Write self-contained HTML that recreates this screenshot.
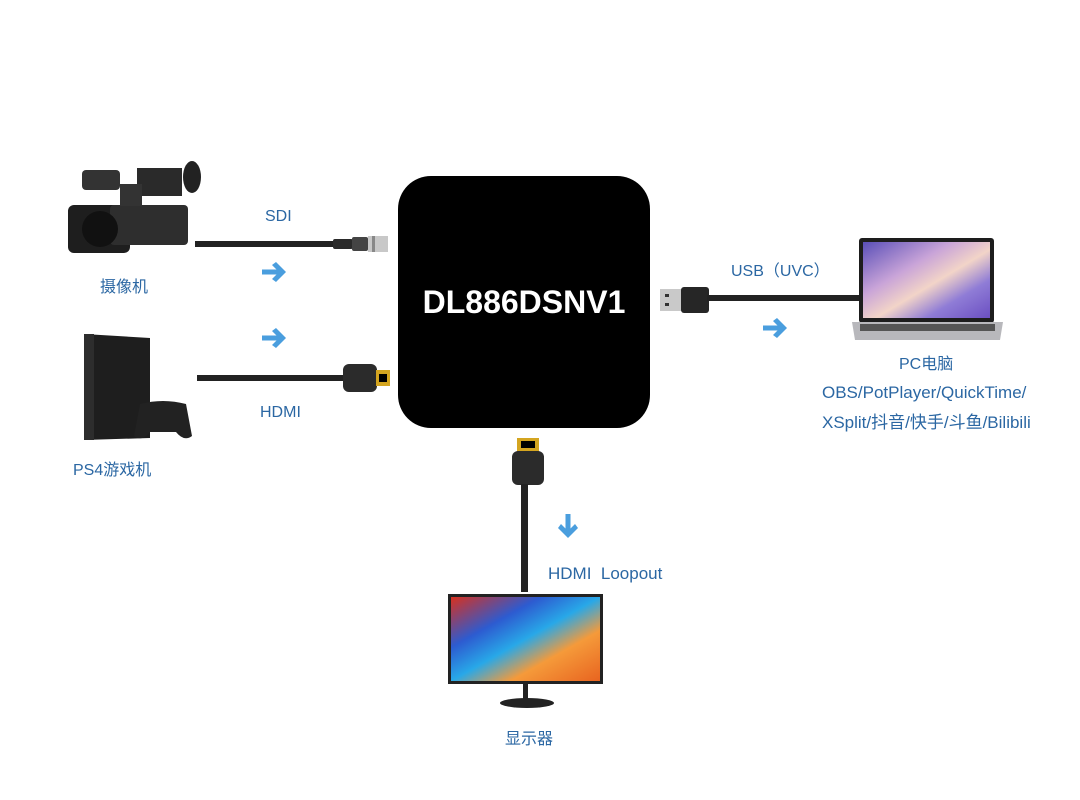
<!DOCTYPE html>
<html><head><meta charset="utf-8"><style>
html,body{margin:0;padding:0;background:#fff;}
body{width:1080px;height:800px;overflow:hidden;position:relative;font-family:"Liberation Sans","Noto Sans CJK SC",sans-serif;}
.t{position:absolute;color:#2b67a3;font-size:16px;white-space:nowrap;}
</style></head><body>
<svg width="1080" height="800" style="position:absolute;left:0;top:0">
<defs>
<linearGradient id="scr" x1="0" y1="0" x2="1" y2="1">
<stop offset="0" stop-color="#5a4fb8"/><stop offset="0.35" stop-color="#c9a4d8"/><stop offset="0.55" stop-color="#f2d4c8"/><stop offset="0.75" stop-color="#8f7cd6"/><stop offset="1" stop-color="#6b4fc2"/></linearGradient>
<linearGradient id="mon" x1="0" y1="0" x2="1" y2="1">
<stop offset="0" stop-color="#d8301e"/><stop offset="0.3" stop-color="#2d5bd0"/><stop offset="0.5" stop-color="#28a8e8"/><stop offset="0.7" stop-color="#f59a3a"/><stop offset="1" stop-color="#e86420"/></linearGradient>
<g id="arr"><rect x="0" y="-2.5" width="18" height="5" fill="#4a9ede"/><path d="M14,-10 L24,0 L14,10 L10,7 L17,0 L10,-7Z" fill="#4a9ede"/></g>
</defs>
<rect x="398" y="176" width="252" height="252" rx="33" fill="#000"/>
<text x="524" y="313" fill="#fff" font-size="32" font-weight="bold" text-anchor="middle" font-family="Liberation Sans,sans-serif">DL886DSNV1</text>
<rect x="195" y="241" width="145" height="6" fill="#222"/>
<rect x="333" y="239" width="20" height="10" rx="2" fill="#2a2a2a"/>
<rect x="352" y="237" width="16" height="14" rx="2" fill="#444"/>
<rect x="368" y="236" width="20" height="16" fill="#c8c8c8"/>
<rect x="372" y="236" width="3" height="16" fill="#888"/>
<rect x="197" y="375" width="150" height="6" fill="#222"/>
<rect x="343" y="364" width="34" height="28" rx="6" fill="#2b2b2b"/>
<rect x="376" y="370" width="14" height="16" fill="#d4a520"/>
<rect x="379" y="374" width="8" height="8" fill="#000"/>
<use href="#arr" x="262" y="272"/>
<use href="#arr" x="262" y="338"/>
<use href="#arr" x="763" y="328"/>
<g transform="translate(568,514) rotate(90)"><use href="#arr"/></g>
<rect x="68" y="205" width="62" height="48" rx="6" fill="#1e1e1e"/>
<rect x="110" y="205" width="78" height="40" rx="4" fill="#2e2e2e"/>
<rect x="137" y="168" width="45" height="28" fill="#2a2a2a"/>
<rect x="82" y="170" width="38" height="20" rx="4" fill="#333"/>
<ellipse cx="192" cy="177" rx="9" ry="16" fill="#222"/>
<rect x="120" y="184" width="22" height="22" fill="#333"/>
<circle cx="100" cy="229" r="18" fill="#111"/>
<path d="M84,334 L150,338 L150,438 L84,440Z" fill="#1e1e1e"/>
<rect x="84" y="334" width="10" height="106" fill="#2d2d2d"/>
<path d="M140,404 Q163,398 186,404 L192,436 Q184,442 176,432 L150,432 Q142,442 134,436Z" fill="#222"/>
<rect x="660" y="289" width="24" height="22" fill="#c9c9c9"/>
<rect x="665" y="294" width="4" height="3" fill="#333"/><rect x="665" y="303" width="4" height="3" fill="#333"/>
<rect x="681" y="287" width="28" height="26" rx="3" fill="#262626"/>
<rect x="707" y="295" width="152" height="6" fill="#222"/>
<rect x="859" y="238" width="135" height="85" rx="3" fill="#1d1d1d"/>
<rect x="863" y="242" width="127" height="76" fill="url(#scr)"/>
<path d="M852,322 L1003,322 L1000,340 L855,340Z" fill="#b8b8bc"/>
<rect x="860" y="324" width="135" height="7" fill="#555"/>
<rect x="517" y="438" width="22" height="14" fill="#d4a520"/>
<rect x="521" y="441" width="14" height="7" fill="#000"/>
<rect x="512" y="451" width="32" height="34" rx="6" fill="#2b2b2b"/>
<rect x="521" y="484" width="7" height="108" fill="#222"/>
<rect x="448" y="594" width="155" height="90" fill="#222"/>
<rect x="451" y="597" width="149" height="84" fill="url(#mon)"/>
<rect x="523" y="684" width="5" height="15" fill="#222"/>
<ellipse cx="527" cy="703" rx="27" ry="5" fill="#222"/>
</svg>
<div class="t" style="left:265px;top:208px;">SDI</div>
<div class="t" style="left:100px;top:273px;">摄像机</div>
<div class="t" style="left:260px;top:404px;">HDMI</div>
<div class="t" style="left:73px;top:456px;">PS4游戏机</div>
<div class="t" style="left:731px;top:257px;">USB（UVC）</div>
<div class="t" style="left:899px;top:350px;">PC电脑</div>
<div class="t" style="left:822px;top:383px;font-size:17px;">OBS/PotPlayer/QuickTime/</div>
<div class="t" style="left:822px;top:408px;font-size:17px;">XSplit/抖音/快手/斗鱼/Bilibili</div>
<div class="t" style="left:548px;top:564px;font-size:17px;">HDMI&nbsp; Loopout</div>
<div class="t" style="left:505px;top:725px;">显示器</div>
</body></html>
